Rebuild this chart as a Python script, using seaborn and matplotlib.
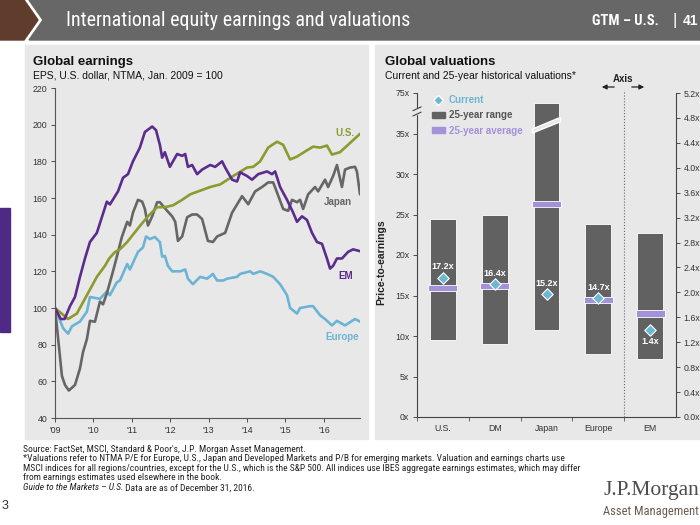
import matplotlib
matplotlib.use("Agg")
import numpy as np
import pandas as pd
import matplotlib.pyplot as plt
import seaborn as sns
from matplotlib import font_manager
from matplotlib.patches import Polygon, Rectangle, Patch, FancyArrowPatch
from matplotlib.lines import Line2D
from matplotlib.ticker import NullLocator

# ---- Global earnings: EPS, U.S. dollar, NTMA, Jan. 2009 = 100 ----
us_year = [2009.00, 2009.34, 2009.57, 2009.83, 2010.09, 2010.30, 2010.41, 2010.56, 2010.69,
           2010.88, 2011.03, 2011.22, 2011.42, 2011.66, 2011.86, 2012.07, 2012.31, 2012.52,
           2012.78, 2013.04, 2013.30, 2013.64, 2014.00, 2014.16, 2014.34, 2014.55, 2014.78,
           2014.94, 2015.12, 2015.30, 2015.56, 2015.72, 2015.90, 2016.08, 2016.21, 2016.42,
           2016.68, 2016.94]
us_eps = [100, 94, 97, 107, 117, 123, 127, 130.5, 132, 136, 140, 145, 150, 155, 155, 156, 159,
          162, 164, 166, 167.4, 172, 176.6, 177, 180, 187.5, 190.7, 189, 181, 182.6, 186, 188,
          187.5, 188.6, 183.7, 185, 190, 195]

em_year = [2009.00, 2009.15, 2009.25, 2009.39, 2009.52, 2009.65, 2009.78, 2009.91, 2010.09,
           2010.35, 2010.43, 2010.64, 2010.77, 2010.90, 2011.03, 2011.21, 2011.34, 2011.53,
           2011.63, 2011.73, 2011.79, 2011.86, 2011.99, 2012.18, 2012.31, 2012.39, 2012.46,
           2012.57, 2012.70, 2012.83, 2013.04, 2013.17, 2013.35, 2013.43, 2013.61, 2013.74,
           2013.82, 2014.00, 2014.13, 2014.29, 2014.52, 2014.65, 2014.73, 2014.86, 2015.04,
           2015.20, 2015.30, 2015.43, 2015.56, 2015.69, 2015.82, 2015.95, 2016.08, 2016.16,
           2016.24, 2016.34, 2016.47, 2016.63, 2016.76, 2016.94]
em_eps = [100, 94, 94, 101, 106, 117, 127, 136, 141, 158, 156.5, 163.6, 171, 173, 180, 187.5,
          196, 199, 197, 189, 182, 185, 177, 184, 183, 184, 177, 178, 173, 175.5, 178, 177, 180,
          176.6, 170, 169, 174, 172, 170, 173, 174.5, 173, 174.5, 166, 159, 152, 147, 150, 148,
          141, 136, 135, 127, 121.5, 123, 127, 127, 130.6, 132, 131]

jp_year = [2009.00, 2009.18, 2009.26, 2009.36, 2009.52, 2009.65, 2009.73, 2009.83, 2009.91,
           2010.04, 2010.17, 2010.25, 2010.35, 2010.43, 2010.51, 2010.61, 2010.74, 2010.88,
           2010.95, 2011.03, 2011.16, 2011.27, 2011.34, 2011.42, 2011.53, 2011.66, 2011.73,
           2011.92, 2012.05, 2012.13, 2012.20, 2012.31, 2012.44, 2012.57, 2012.70, 2012.83,
           2012.98, 2013.11, 2013.22, 2013.43, 2013.61, 2013.87, 2014.03, 2014.21, 2014.39,
           2014.55, 2014.68, 2014.78, 2014.94, 2015.07, 2015.17, 2015.30, 2015.38, 2015.46,
           2015.59, 2015.77, 2015.85, 2016.03, 2016.11, 2016.24, 2016.34, 2016.47, 2016.55,
           2016.68, 2016.81, 2016.86, 2016.94]
jp_eps = [100, 63, 58, 55, 58, 67, 76, 83, 93, 92.5, 103.5, 102, 108, 114, 120, 128, 138.7,
          147, 145, 152, 159, 158, 154, 145, 150, 157.7, 157.7, 153, 150, 147, 136.6, 139, 149.5,
          151, 151, 148.5, 136.6, 136, 139, 141, 152, 161, 156.6, 163.6, 166, 168.5, 168.5, 163,
          154, 153, 159, 157.7, 159, 154, 162, 166, 163.6, 170, 166, 172, 178, 166, 175.5, 176.6,
          177, 174.5, 162]

eu_year = [2009.00, 2009.21, 2009.34, 2009.44, 2009.65, 2009.83, 2009.91, 2010.17, 2010.35,
           2010.43, 2010.61, 2010.69, 2010.88, 2010.95, 2011.16, 2011.29, 2011.37, 2011.47,
           2011.60, 2011.73, 2011.79, 2011.86, 2011.94, 2012.05, 2012.26, 2012.39, 2012.46,
           2012.59, 2012.78, 2012.96, 2013.11, 2013.22, 2013.38, 2013.48, 2013.74, 2013.82,
           2014.08, 2014.16, 2014.34, 2014.52, 2014.68, 2014.86, 2015.04, 2015.12, 2015.30,
           2015.38, 2015.64, 2015.72, 2015.90, 2016.03, 2016.21, 2016.34, 2016.55, 2016.81,
           2016.94]
eu_eps = [100, 89, 86, 90, 92.6, 98, 106, 105, 109, 107, 114, 115, 124, 121, 130.6, 133, 139,
          137.6, 138.7, 136, 128, 128.4, 123, 120, 120, 121, 116, 113, 117, 116, 118.6, 115, 115,
          116, 117, 118.6, 120, 118.6, 120, 118.6, 117, 113, 107, 100, 97, 100, 101, 101, 96, 94,
          90.5, 93, 90.5, 94, 92.6]

year_ticks = [2009, 2010, 2011, 2012, 2013, 2014, 2015, 2016]
year_labels = ["'09", "'10", "'11", "'12", "'13", "'14", "'15", "'16"]
eps_ticks = [40, 60, 80, 100, 120, 140, 160, 180, 200, 220]

# ---- Global valuations ----
val_regions = ["U.S.", "DM", "Japan", "Europe", "EM"]
pe_low = [9.5, 9.0, 10.8, 7.8]
pe_high = [24.5, 25.0, 65.0, 23.8]
pe_avg = [15.9, 16.2, 26.3, 14.5]
pe_now = [17.2, 16.4, 15.2, 14.7]
em_pb_low = 0.93
em_pb_high = 2.95
em_pb_avg = 1.66
em_pb_now = 1.4
pe_ticks = [0, 5, 10, 15, 20, 25, 30, 35, 75]
pb_ticks = [0.0, 0.4, 0.8, 1.2, 1.6, 2.0, 2.4, 2.8, 3.2, 3.6, 4.0, 4.4, 4.8, 5.2]

# colours
em_c, us_c, jp_c, eu_c = "#5b2c8e", "#8c9a2f", "#666666", "#6cb4d5"
bar_c, avg_c, now_c = "#616161", "#a391d9", "#6bb8d4"
panel_c = "#e8e8e8"

sns.set_theme(style="white")
plt.rcParams["font.family"] = ["Liberation Sans", "DejaVu Sans"]

installed = {f.name for f in font_manager.fontManager.ttflist}
narrow = next((n for n in ["Liberation Sans Narrow", "Roboto Condensed", "Open Sans Condensed"]
               if n in installed), None)

W, H = 700, 525
def fx(x):
    return x / W
def fy(y):
    return 1 - y / H

fig = plt.figure(figsize=(7, 5.25), dpi=100)

# header band
fig.add_artist(Polygon([(fx(0), fy(0)), (fx(24), fy(0)), (fx(38), fy(20)), (fx(24), fy(40)),
                        (fx(0), fy(40))], closed=True, transform=fig.transFigure,
                       color="#603c2d", zorder=-2))
fig.add_artist(Polygon([(fx(29), fy(0)), (fx(700), fy(0)), (fx(700), fy(40)), (fx(29), fy(40)),
                        (fx(43), fy(20))], closed=True, transform=fig.transFigure,
                       color="#676767", zorder=-2))
if narrow:
    fig.text(fx(66), fy(20), "International equity earnings and valuations", color="white",
             fontsize=14.4, va="center", family=narrow)
    fig.text(fx(592), fy(21), "GTM – U.S.", color="white", fontsize=10.5, va="center",
             family=narrow, fontweight="bold")
else:
    fig.text(fx(66), fy(20), "International equity earnings and valuations", color="white",
             fontsize=12, va="center")
    fig.text(fx(592), fy(21), "GTM – U.S.", color="white", fontsize=8.5, va="center",
             fontweight="bold")
fig.text(fx(672), fy(20), "|", color="white", fontsize=12, va="center")
fig.text(fx(683), fy(21), "41", color="white", fontsize=10, va="center", fontweight="bold")

# panels and side tab
fig.add_artist(Rectangle((fx(25), fy(439)), (368 - 25) / W, (439 - 45) / H,
                         transform=fig.transFigure, color=panel_c, zorder=-2))
fig.add_artist(Rectangle((fx(375), fy(439)), (700 - 375) / W, (439 - 45) / H,
                         transform=fig.transFigure, color=panel_c, zorder=-2))
fig.add_artist(Rectangle((fx(0), fy(332)), 10 / W, (332 - 208) / H,
                         transform=fig.transFigure, color="#4e2a84", zorder=-2))

# ---------------- left: Global earnings ----------------
fig.text(fx(33), fy(62), "Global earnings", fontsize=9.5, fontweight="bold", va="center",
         color="#111")
fig.text(fx(33), fy(76), "EPS, U.S. dollar, NTMA, Jan. 2009 = 100", fontsize=7.5,
         va="center", color="#111")

earn = pd.concat([
    pd.DataFrame({"year": eu_year, "eps": eu_eps, "region": "Europe"}),
    pd.DataFrame({"year": jp_year, "eps": jp_eps, "region": "Japan"}),
    pd.DataFrame({"year": us_year, "eps": us_eps, "region": "U.S."}),
    pd.DataFrame({"year": em_year, "eps": em_eps, "region": "EM"}),
], ignore_index=True)

ax1 = fig.add_axes([fx(55), fy(418), (360 - 55) / W, (418 - 88) / H])
ax1.set_facecolor("none")
sns.lineplot(data=earn, x="year", y="eps", hue="region",
             hue_order=["Europe", "Japan", "U.S.", "EM"],
             palette={"U.S.": us_c, "EM": em_c, "Japan": jp_c, "Europe": eu_c},
             estimator=None, sort=False, linewidth=1.9, legend=False, ax=ax1)
ax1.set_xlim(2009, 2016.94)
ax1.set_ylim(40, 220)
ax1.set_xticks(year_ticks)
ax1.set_xticklabels(year_labels)
ax1.set_yticks(eps_ticks)
ax1.set_xlabel("")
ax1.set_ylabel("")
ax1.tick_params(axis="both", labelsize=6.3, colors="#333", length=3, width=0.6,
                direction="out", pad=2.5)
ax1.tick_params(axis="both", which="both", left=True, bottom=True)
sns.despine(ax=ax1)
for s in ["left", "bottom"]:
    ax1.spines[s].set_color("#555")
    ax1.spines[s].set_linewidth(0.8)

lab_kw = dict(ha="center", va="center", fontweight="bold", fontsize=7)
ax1.text(2016.56, 195.6, "U.S.", color=us_c, **lab_kw)
ax1.text(2016.37, 157.7, "Japan", color=jp_c, **lab_kw)
ax1.text(2016.58, 117.6, "EM", color=em_c, **lab_kw)
ax1.text(2016.47, 84.0, "Europe", color=eu_c, **lab_kw)

# ---------------- right: Global valuations ----------------
fig.text(fx(385), fy(62), "Global valuations", fontsize=9.5, fontweight="bold", va="center",
         color="#111")
fig.text(fx(385), fy(76), "Current and 25-year historical valuations*", fontsize=7.5,
         va="center", color="#111")


def brk_fwd(v):
    v = np.asarray(v, dtype=float)
    return np.where(v <= 35, v, 35 + (v - 35) / 8.0)


def brk_inv(d):
    d = np.asarray(d, dtype=float)
    return np.where(d <= 35, d, 35 + (d - 35) * 8.0)


ax = fig.add_axes([fx(417), fy(417), (676 - 417) / W, (417 - 93) / H])
ax.set_facecolor("none")
ax.set_yscale("function", functions=(brk_fwd, brk_inv))
ax.set_ylim(0, 75)
pos = list(range(len(pe_low)))
ax.bar(pos, np.subtract(pe_high, pe_low), bottom=pe_low, width=0.5, color=bar_c,
       edgecolor="white", linewidth=0.6, zorder=2)
ax.bar(pos, 0.75, bottom=np.subtract(pe_avg, 0.375), width=0.56, color=avg_c,
       edgecolor="white", linewidth=0.6, zorder=3)
sns.scatterplot(x=pos, y=pe_now, marker="D", s=34, color=now_c, edgecolor="white",
                linewidth=0.8, ax=ax, zorder=4)
for i, v in zip(pos, pe_now):
    ax.annotate(f"{v:.1f}x", (i, v), xytext=(0, 4.5), textcoords="offset points",
                ha="center", va="bottom", color="white", fontweight="bold", fontsize=6.5,
                zorder=5)

# break in the Japan bar
jx = pos[2]
ax.add_patch(Polygon([(jx - 0.27, float(brk_inv(35.06))), (jx + 0.27, float(brk_inv(36.45))),
                      (jx + 0.27, float(brk_inv(37.0))), (jx - 0.27, float(brk_inv(35.55)))],
                     closed=True, facecolor=panel_c, edgecolor="white", linewidth=1.0,
                     zorder=3))

ax.set_xlim(-0.5, 4.5)
ax.set_xticks(range(len(val_regions)))
ax.set_xticklabels(val_regions)
ax.set_xticks([-0.5, 0.5, 1.5, 2.5, 3.5], minor=True)
ax.set_yticks(pe_ticks)
ax.set_yticklabels([f"{t}x" for t in pe_ticks])
ax.yaxis.set_minor_locator(NullLocator())
ax.tick_params(axis="x", which="major", length=0, pad=5, labelsize=6.3, colors="#333")
ax.tick_params(axis="x", which="minor", length=3, width=0.6, color="#555", bottom=True)
ax.tick_params(axis="y", length=3, width=0.6, labelsize=6.3, colors="#333", left=True,
               pad=2.5)
ax.set_xlabel("")
ax.set_ylabel("Price-to-earnings", fontsize=7.5, fontweight="bold", color="#222")
ax.yaxis.set_label_coords(-31 / 259, 0.478)
for s in ["top", "right"]:
    ax.spines[s].set_visible(False)
for s in ["left", "bottom"]:
    ax.spines[s].set_color("#444")
    ax.spines[s].set_linewidth(0.8)

# broken-axis mark on the left spine
for yb in [37.4 / 40, 38.05 / 40]:
    ax.add_line(Line2D([-0.016, 0.016], [yb - 0.006, yb + 0.006], transform=ax.transAxes,
                       color="#444", lw=0.8, clip_on=False, zorder=6))
ax.add_patch(Rectangle((-0.006, 37.4 / 40 + 0.001), 0.012, (38.05 - 37.4) / 40 - 0.002,
                       transform=ax.transAxes, color=panel_c, clip_on=False, zorder=5))

ax.axvline(3.5, ymin=0, ymax=1.01, ls=":", color="#666", lw=0.8, clip_on=False, zorder=1)

# EM on the P/B axis
ax2 = ax.twinx()
ax2.set_facecolor("none")
ax2.set_ylim(0, 5.2)
ax2.bar([4], [em_pb_high - em_pb_low], bottom=[em_pb_low], width=0.5, color=bar_c,
        edgecolor="white", linewidth=0.6, zorder=2)
ax2.bar([4], [0.1], bottom=[em_pb_avg - 0.05], width=0.56, color=avg_c, edgecolor="white",
        linewidth=0.6, zorder=3)
sns.scatterplot(x=[4], y=[em_pb_now], marker="D", s=34, color=now_c, edgecolor="white",
                linewidth=0.8, ax=ax2, zorder=4)
ax2.annotate(f"{em_pb_now:.1f}x", (4, em_pb_now), xytext=(0, -5), textcoords="offset points",
             ha="center", va="top", color="white", fontweight="bold", fontsize=6.5, zorder=5)
ax2.set_xlim(-0.5, 4.5)
ax2.set_yticks(pb_ticks)
ax2.set_yticklabels([f"{t:.1f}x" for t in pb_ticks])
ax2.tick_params(axis="y", length=3, width=0.6, labelsize=6.3, colors="#333", right=True,
                pad=2.5)
ax2.set_ylabel("")
for s in ["top", "left", "bottom"]:
    ax2.spines[s].set_visible(False)
ax2.spines["right"].set_color("#444")
ax2.spines["right"].set_linewidth(0.8)

# "Axis" marker
fig.text(fx(623), fy(79), "Axis", fontsize=7, fontweight="bold", ha="center", va="center",
         color="#222")
for x0, x1 in [(617, 599), (629, 647)]:
    fig.add_artist(FancyArrowPatch((fx(x0), fy(87)), (fx(x1), fy(87)),
                                   transform=fig.transFigure, arrowstyle="-|>",
                                   mutation_scale=7, color="#222", lw=0.9))

# legend
handles = [Line2D([], [], marker="D", ls="none", color=now_c, mec="white", ms=5.5),
           Patch(color=bar_c), Patch(color=avg_c)]
leg = ax.legend(handles, ["Current", "25-year range", "25-year average"], loc="upper left",
                bbox_to_anchor=(fx(432), fy(95)), bbox_transform=fig.transFigure,
                frameon=False, prop={"weight": "bold", "size": 7}, handlelength=1.3,
                handleheight=0.55, handletextpad=0.4, labelspacing=0.55, borderpad=0,
                borderaxespad=0, labelcolor=[now_c, "#555555", avg_c])
leg.set_zorder(10)

# footnotes
foot_font = narrow if narrow else "Liberation Sans"
foot_size = 6.8 if narrow else 6.1
foot_kw = dict(fontsize=foot_size, color="#222", va="center", family=foot_font)
fig.text(fx(23), fy(449), "Source: FactSet, MSCI, Standard & Poor's, J.P. Morgan Asset Management.",
         **foot_kw)
fig.text(fx(23), fy(458.5), "*Valuations refer to NTMA P/E for Europe, U.S., Japan and Developed "
         "Markets and P/B for emerging markets. Valuation and earnings charts use", **foot_kw)
fig.text(fx(23), fy(468.5), "MSCI indices for all regions/countries, except for the U.S., which is "
         "the S&P 500. All indices use IBES aggregate earnings estimates, which may differ",
         **foot_kw)
fig.text(fx(23), fy(478), "from earnings estimates used elsewhere in the book.", **foot_kw)
t_guide = fig.text(fx(23), fy(488), "Guide to the Markets – U.S.", style="italic", **foot_kw)
ax.annotate(" Data are as of December 31, 2016.", xy=(1, 0.5), xycoords=t_guide, va="center",
            ha="left", fontsize=foot_size, color="#222", family=foot_font,
            annotation_clip=False)

# page number and logo
fig.text(fx(2), fy(506), "3", fontsize=9, color="#333", va="center")
fig.text(fx(603), fy(490), "J.P.Morgan", family=["Liberation Serif", "DejaVu Serif"],
         fontsize=15.5, color="#4d4d4d", va="center")
fig.text(fx(603), fy(511), "Asset Management", fontsize=9, color="#6b5b4e", va="center",
         family=foot_font)

fig.savefig("out.png", dpi=100)
